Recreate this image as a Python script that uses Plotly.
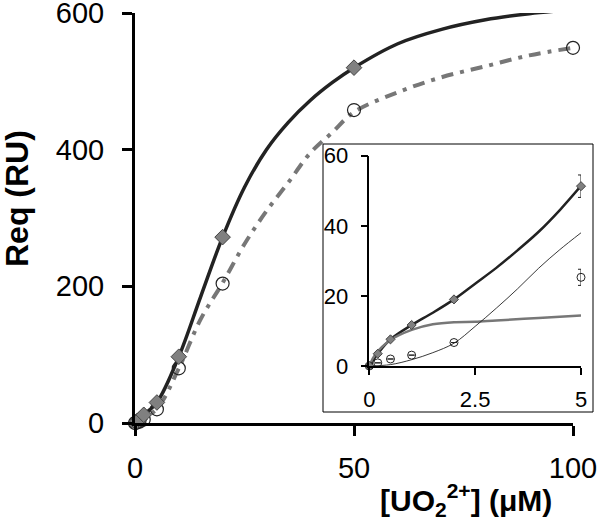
import plotly.graph_objects as go

# ---------------- main panel data ----------------
main_diamond_x = [0, 0.2, 0.5, 1, 2, 5, 10, 20, 50]
main_diamond_y = [0, 1.5, 3, 5, 12, 30, 97, 272, 520]
main_circle_x = [0, 0.2, 0.5, 1, 2, 5, 10, 20, 50, 100]
main_circle_y = [0, 0.5, 1, 2, 5, 20, 80, 204, 458, 549]

main_solid_x = [0, 2, 5, 10, 15, 20, 25, 30, 35, 40, 45, 50, 60, 70, 80, 90, 100]
main_solid_y = [0, 12, 30, 97, 185, 272, 345, 400, 440, 472, 498, 520, 555, 576, 590, 599, 605]
main_dash_x = [0, 5, 10, 15, 20, 25, 30, 35, 40, 45, 50, 60, 70, 80, 90, 100]
main_dash_y = [0, 21, 80, 152, 205, 262, 310, 352, 395, 425, 455, 484, 506, 522, 538, 549]

main_xticks = [0, 50, 100]
main_yticks = [0, 200, 400, 600]

# ---------------- inset data ----------------
ins_x = [0, 0.2, 0.5, 1, 2, 5]
ins_diamond_y = [0, 3.5, 7.6, 11.7, 19.0, 51.3]
ins_diamond_err = [0, 0, 0, 0, 0, 3.2]
ins_circle_y = [0, 0.9, 2.0, 3.1, 6.7, 25.3]
ins_circle_err = [0, 0, 0, 0, 0, 2.3]

ins_total_x = [0, 0.2, 0.5, 1, 1.5, 2, 2.5, 3, 3.5, 4, 4.5, 5]
ins_total_y = [0, 3.5, 7.6, 11.7, 15.2, 19.0, 23.5, 28.0, 33.0, 38.3, 44.5, 51.4]
ins_high_x = [0, 0.13, 0.5, 1, 1.5, 2, 2.5, 3, 4, 5]
ins_high_y = [0, 3.1, 7.4, 10.3, 11.9, 12.5, 12.6, 13.0, 13.7, 14.4]
ins_low_x = [0, 0.5, 1, 1.5, 2, 2.5, 3, 3.5, 4, 4.5, 5]
ins_low_y = [0, 0.4, 1.8, 3.8, 6.5, 11.3, 16.5, 22.0, 27.9, 33.2, 38.0]

ins_xticks = [0, 2.5, 5]
ins_xticktext = ["0", "2.5", "5"]
ins_yticks = [0, 20, 40, 60]

FONT = "Liberation Sans, Arial, Helvetica, sans-serif"
DARK = "#222222"
GRAY = "#777777"

fig = go.Figure()

# main curves
fig.add_trace(go.Scatter(x=main_solid_x, y=main_solid_y, mode="lines",
                         line=dict(color=DARK, width=3.5, shape="spline"),
                         xaxis="x", yaxis="y", cliponaxis=False))
fig.add_trace(go.Scatter(x=main_dash_x, y=main_dash_y, mode="lines",
                         line=dict(color=GRAY, width=4, shape="spline",
                                   dash="12px,7px,4px,7px"),
                         xaxis="x", yaxis="y", cliponaxis=False))
fig.add_trace(go.Scatter(x=main_circle_x, y=main_circle_y, mode="markers",
                         marker=dict(symbol="circle-open", size=13, color=DARK,
                                     line=dict(width=1.2)),
                         xaxis="x", yaxis="y", cliponaxis=False))
fig.add_trace(go.Scatter(x=main_diamond_x, y=main_diamond_y, mode="markers",
                         marker=dict(symbol="diamond", size=12, color="#808080",
                                     line=dict(color="#444444", width=1)),
                         xaxis="x", yaxis="y", cliponaxis=False))

# inset curves
fig.add_trace(go.Scatter(x=ins_total_x, y=ins_total_y, mode="lines",
                         line=dict(color=DARK, width=2.5, shape="spline"),
                         xaxis="x2", yaxis="y2", cliponaxis=False))
fig.add_trace(go.Scatter(x=ins_high_x, y=ins_high_y, mode="lines",
                         line=dict(color=GRAY, width=2.5, shape="spline"),
                         xaxis="x2", yaxis="y2", cliponaxis=False))
fig.add_trace(go.Scatter(x=ins_low_x, y=ins_low_y, mode="lines",
                         line=dict(color=DARK, width=0.9, shape="spline"),
                         xaxis="x2", yaxis="y2", cliponaxis=False))
fig.add_trace(go.Scatter(x=ins_x, y=ins_circle_y, mode="markers",
                         marker=dict(symbol="circle-open", size=8, color=DARK,
                                     line=dict(width=1)),
                         error_y=dict(type="data", array=ins_circle_err, color=DARK,
                                      thickness=1, width=3),
                         xaxis="x2", yaxis="y2", cliponaxis=False))
fig.add_trace(go.Scatter(x=ins_x, y=ins_diamond_y, mode="markers",
                         marker=dict(symbol="diamond", size=7, color="#808080",
                                     line=dict(color="#444444", width=1)),
                         error_y=dict(type="data", array=ins_diamond_err, color=DARK,
                                      thickness=1, width=3),
                         xaxis="x2", yaxis="y2", cliponaxis=False))

X0, X1 = 135, 595      # plot area in window pixels
Y0, Y1 = 13, 423
W_PLOT = X1 - X0
H_PLOT = Y1 - Y0


def px(x):
    return (x - X0) / W_PLOT


def py(y):
    return (Y1 - y) / H_PLOT


axis_common = dict(showgrid=False, zeroline=False, showline=True, linecolor="black",
                   ticks="outside", tickcolor="black", automargin=False,
                   ticklabeloverflow="allow")

fig.update_layout(
    width=600, height=520,
    margin=dict(l=X0, r=600 - X1, t=Y0, b=520 - Y1, pad=0, autoexpand=False),
    paper_bgcolor="white", plot_bgcolor="white",
    showlegend=False,
    font=dict(family=FONT, color="black"),
    xaxis=dict(domain=[0, px(573)], range=[0, 100], tickvals=main_xticks,
               linewidth=3, ticklen=10, tickwidth=3, tickfont=dict(size=29),
               anchor="y", ticklabelstandoff=7, **axis_common),
    yaxis=dict(domain=[0, 1], range=[0, 600], tickvals=main_yticks,
               linewidth=3, ticklen=10, tickwidth=3, tickfont=dict(size=29),
               anchor="x", ticklabelstandoff=12, **axis_common),
    xaxis2=dict(domain=[px(369.3), px(581)], range=[0, 5], tickvals=ins_xticks,
                ticktext=ins_xticktext, linewidth=1.5, ticklen=7, tickwidth=1.5,
                tickfont=dict(size=22), anchor="y2", ticklabelstandoff=6, **axis_common),
    yaxis2=dict(domain=[py(366), py(155.7)], range=[0, 60], tickvals=ins_yticks,
                linewidth=1.5, ticklen=7, tickwidth=1.5, tickfont=dict(size=22),
                anchor="x2", ticklabelstandoff=8, **axis_common),
    shapes=[dict(type="rect", xref="paper", yref="paper",
                 x0=px(323), x1=px(593), y0=py(412), y1=py(144),
                 line=dict(color="black", width=1), fillcolor="white", layer="below")],
    annotations=[
        dict(text="<b>Req (RU)</b>", xref="paper", yref="paper",
             x=px(17), y=py(198), textangle=-90, showarrow=False,
             xanchor="center", yanchor="middle", font=dict(size=32)),
        dict(text="<b>[UO<sub>2</sub><sup>2+</sup>] (μM)</b>", xref="paper", yref="paper",
             x=px(466), y=py(500), showarrow=False,
             xanchor="center", yanchor="middle", font=dict(size=30)),
    ],
)

# remove the page's default body margin so the 600x520 figure fills the window
fig.write_html("out.html", config={"displayModeBar": False},
               post_script="document.body.style.margin='0px';")
